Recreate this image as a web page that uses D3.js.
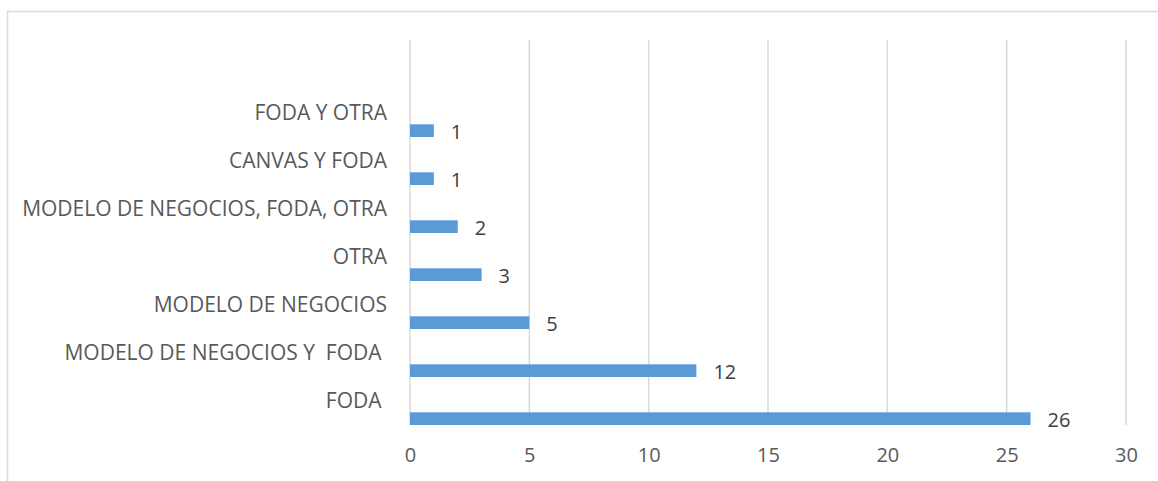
<!DOCTYPE html>
<html><head><meta charset="utf-8">
<script src="https://cdn.jsdelivr.net/npm/d3@7"></script>
<style>html,body{margin:0;padding:0;background:#fff;}svg{display:block;}</style>
</head><body>
<svg id="c" width="1158" height="481"></svg>
<script>
const categories = ["FODA ", "MODELO DE NEGOCIOS Y  FODA ", "MODELO DE NEGOCIOS", "OTRA", "MODELO DE NEGOCIOS, FODA, OTRA", "CANVAS Y FODA", "FODA Y OTRA"];
const values = [26, 12, 5, 3, 2, 1, 1];
const xTicks = [0, 5, 10, 15, 20, 25, 30];

const svg = d3.select("#c");
const font = "'Open Sans', sans-serif";
svg.append("rect").attr("x", 7.5).attr("y", 11.5).attr("width", 1300).attr("height", 600)
  .attr("fill", "none").attr("stroke", "#d9d9d9").attr("stroke-width", 1.5);

const x = d3.scaleLinear().domain([0, 30]).range([410, 1126]);
const plotTop = 40, plotBottom = 425;
const y = d3.scaleBand().domain(categories).range([plotBottom, plotBottom - 48 * categories.length]).paddingInner(0).paddingOuter(0);
const barH = 12.7;

// gridlines
svg.append("g").selectAll("line").data(xTicks).join("line")
  .attr("x1", d => x(d)).attr("x2", d => x(d))
  .attr("y1", plotTop).attr("y2", plotBottom)
  .attr("stroke", "#d9d9d9").attr("stroke-width", 1.5);

// x axis labels
const xa = svg.append("g").attr("transform", `translate(0,${plotBottom})`)
  .call(d3.axisBottom(x).tickValues(xTicks).tickSize(0).tickPadding(23));
xa.select(".domain").remove();
xa.selectAll("text").attr("font-family", font).attr("font-size", 20).attr("fill", "#595959");

// bars
svg.append("g").selectAll("rect").data(categories).join("rect")
  .attr("x", x(0)).attr("y", d => y(d) + y.bandwidth() - barH)
  .attr("width", (d, i) => x(values[i]) - x(0)).attr("height", barH)
  .attr("fill", "#5b9bd5");

// category labels
svg.append("g").selectAll("text").data(categories).join("text")
  .attr("x", 387).attr("y", d => y(d) + y.bandwidth() / 2)
  .attr("dy", "0.35em").attr("text-anchor", "end")
  .attr("xml:space", "preserve").style("white-space", "pre")
  .attr("font-family", font).attr("font-size", 21).attr("fill", "#595959")
  .text(d => d);

// value labels
svg.append("g").selectAll("text").data(categories).join("text")
  .attr("x", (d, i) => x(values[i]) + 17)
  .attr("y", d => y(d) + y.bandwidth() - barH / 2 + 1.5)
  .attr("dy", "0.35em")
  .attr("font-family", font).attr("font-size", 20).attr("fill", "#404040")
  .text((d, i) => values[i]);
</script>
</body></html>
